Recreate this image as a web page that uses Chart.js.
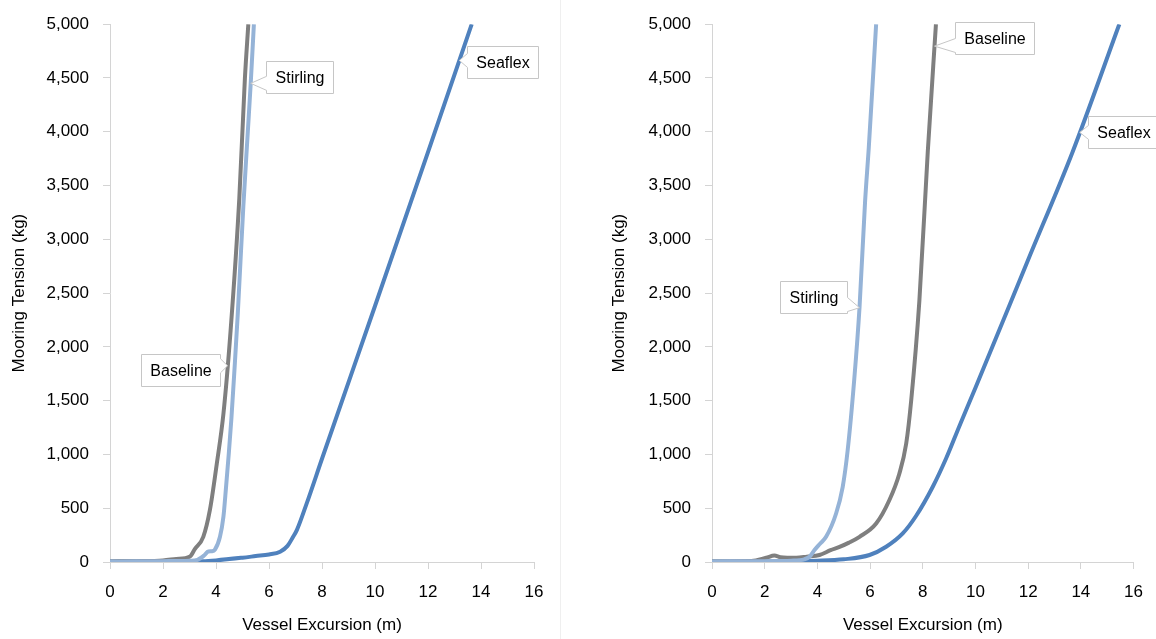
<!DOCTYPE html>
<html>
<head>
<meta charset="utf-8">
<script src="https://cdn.jsdelivr.net/npm/chart.js@4.4.0/dist/chart.umd.min.js"></script>
<style>
  html, body { margin: 0; padding: 0; background: #fff; }
  #wrap { position: relative; width: 1156px; height: 639px; overflow: hidden; }
  #leftBox { position: absolute; left: 0; top: 0; width: 560px; height: 639px; }
  #rightBox { position: absolute; left: 600px; top: 0; width: 556px; height: 639px; }
  #divider { position: absolute; left: 560px; top: 0; width: 1px; height: 639px; background: #efefef; }
</style>
</head>
<body>
<div id="wrap">
  <div id="leftBox"><canvas id="leftChart" width="560" height="639"></canvas></div>
  <div id="divider"></div>
  <div id="rightBox"><canvas id="rightChart" width="556" height="639"></canvas></div>
</div>
<script>
// data - left panel
const leftStirlingX = [0, 1, 2, 3, 3.3, 3.55, 3.71, 3.85, 3.96, 4.15, 4.28, 4.38, 4.48, 4.58, 4.7, 4.82, 5.03, 5.2, 5.31, 5.43];
const leftStirlingY = [5, 6, 8, 12, 20, 60, 98, 100, 115, 234, 420, 700, 1000, 1330, 1800, 2300, 3300, 4000, 4450, 5000];
const leftBaselineX = [0, 1, 2, 2.5, 3.02, 3.2, 3.52, 3.77, 4.03, 4.28, 4.55, 4.88, 5.09, 5.22];
const leftBaselineY = [5, 8, 15, 28, 52, 120, 234, 484, 914, 1377, 2148, 3382, 4494, 5000];
const leftSeaflexX = [0, 2, 3.5, 4, 5, 5.5, 6, 6.42, 6.7, 6.9, 7.05, 7.42, 8, 10, 12, 13.65];
const leftSeaflexY = [5, 6, 8, 15, 40, 55, 70, 96, 150, 230, 296, 543, 960, 2380, 3810, 5000];

// data - right panel
const rightStirlingX = [0, 2, 3, 3.5, 3.7, 3.89, 4.1, 4.33, 4.71, 4.96, 5.15, 5.4, 5.6, 5.81, 5.95, 6.23];
const rightStirlingY = [5, 8, 12, 25, 49, 111, 170, 234, 451, 697, 1040, 1700, 2370, 3350, 3850, 5000];
const rightBaselineX = [0, 1.5, 2.06, 2.37, 2.6, 3.2, 3.6, 4.08, 4.5, 4.84, 5.2, 5.6, 6.23, 6.73, 7.11, 7.37, 7.56, 7.87, 8.19, 8.5];
const rightBaselineY = [5, 10, 40, 60, 45, 40, 50, 65, 110, 140, 180, 234, 358, 574, 821, 1099, 1500, 2426, 3815, 5000];
const rightSeaflexX = [0, 3, 4, 5, 5.98, 6.61, 7.24, 7.75, 8.38, 8.88, 9.4, 10, 12, 13.69, 15.46];
const rightSeaflexY = [5, 8, 12, 25, 65, 142, 266, 430, 700, 960, 1270, 1620, 2810, 3815, 5000];

const seriesNames = ["Stirling", "Baseline", "Seaflex"];
const xTicks = [0, 2, 4, 6, 8, 10, 12, 14, 16];
const yTicks = [0, 500, 1000, 1500, 2000, 2500, 3000, 3500, 4000, 4500, 5000];

const seriesColors = ["#95b3d7", "#7f7f7f", "#4f81bd"];

Chart.defaults.font.family = '"Liberation Sans", Arial, Helvetica, sans-serif';
Chart.defaults.color = "#000";

const toPoints = (xs, ys) => xs.map((x, i) => ({ x: x, y: ys[i] }));

// callout boxes (Excel style data labels)
const calloutPlugin = {
  id: "callouts",
  afterDatasetsDraw(chart, args, opts) {
    const ctx = chart.ctx;
    const sx = chart.scales.x, sy = chart.scales.y;
    (opts.items || []).forEach((item) => {
      const pts = chart.data.datasets[item.dataset].data;
      let xv = null;
      for (let i = 1; i < pts.length; i++) {
        if (pts[i - 1].y <= item.atY && pts[i].y >= item.atY) {
          const t = (item.atY - pts[i - 1].y) / (pts[i].y - pts[i - 1].y);
          xv = pts[i - 1].x + t * (pts[i].x - pts[i - 1].x);
          break;
        }
      }
      if (xv === null) return;
      const tipX = sx.getPixelForValue(xv);
      const tipY = sy.getPixelForValue(item.atY);
      ctx.save();
      ctx.font = '16px "Liberation Sans", Arial, sans-serif';
      const w = Math.round(ctx.measureText(item.text).width + 18);
      const h = 32;
      const left = Math.round(item.side === "right" ? tipX + item.gap : tipX - item.gap - w) + 0.5;
      const top = Math.round(tipY + item.dy - h / 2) + 0.5;
      const wb = Math.min(Math.max(tipY, top + 9), top + h - 9);
      ctx.beginPath();
      if (item.side === "right") {
        ctx.moveTo(left, top);
        ctx.lineTo(left + w, top);
        ctx.lineTo(left + w, top + h);
        ctx.lineTo(left, top + h);
        ctx.lineTo(left, wb + 7);
        ctx.lineTo(tipX, tipY);
        ctx.lineTo(left, wb - 7);
      } else {
        ctx.moveTo(left, top);
        ctx.lineTo(left + w, top);
        ctx.lineTo(left + w, wb - 7);
        ctx.lineTo(tipX, tipY);
        ctx.lineTo(left + w, wb + 7);
        ctx.lineTo(left + w, top + h);
        ctx.lineTo(left, top + h);
      }
      ctx.closePath();
      ctx.fillStyle = "#fff";
      ctx.fill();
      ctx.strokeStyle = "#c6c6c6";
      ctx.lineWidth = 1;
      ctx.stroke();
      ctx.fillStyle = "#000";
      ctx.textAlign = "center";
      ctx.textBaseline = "middle";
      ctx.fillText(item.text, left + w / 2, top + h / 2 + 1);
      ctx.restore();
    });
  },
};

function makeChart(canvasId, series, yWidth, padRight, callouts) {
  return new Chart(document.getElementById(canvasId), {
    type: "scatter",
    data: {
      datasets: series.map((pts, i) => ({
        label: seriesNames[i],
        data: pts,
        showLine: true,
        borderColor: seriesColors[i],
        backgroundColor: seriesColors[i],
        borderWidth: 4,
        pointRadius: 0,
        pointHoverRadius: 0,
        cubicInterpolationMode: "monotone",
      })),
    },
    plugins: [calloutPlugin],
    options: {
      responsive: false,
      animation: false,
      layout: { padding: { top: 22, right: padRight, bottom: 0, left: 0 } },
      plugins: {
        legend: { display: false },
        tooltip: { enabled: false },
        callouts: { items: callouts },
      },
      scales: {
        x: {
          type: "linear",
          min: 0,
          max: 16,
          afterBuildTicks: (s) => { s.ticks = xTicks.map((v) => ({ value: v })); },
          ticks: { font: { size: 17 }, padding: 13, maxRotation: 0, autoSkip: false },
          grid: { drawOnChartArea: false, tickLength: 7, color: "#d4d4d4" },
          border: { color: "#d4d4d4" },
          title: {
            display: true,
            text: "Vessel Excursion (m)",
            font: { size: 17 },
            padding: { top: 0, bottom: 3 },
          },
          afterFit: (s) => { s.height = 77; },
        },
        y: {
          type: "linear",
          min: 0,
          max: 5000,
          afterBuildTicks: (s) => { s.ticks = yTicks.map((v) => ({ value: v })); },
          ticks: {
            font: { size: 17 },
            padding: 14,
            callback: (v) => v.toLocaleString("en-US"),
          },
          grid: { drawOnChartArea: false, tickLength: 7, color: "#d4d4d4" },
          border: { color: "#d4d4d4" },
          title: {
            display: true,
            text: "Mooring Tension (kg)",
            font: { size: 17 },
            padding: { top: 9, bottom: 0 },
          },
          afterFit: (s) => { s.width = yWidth; },
        },
      },
    },
  });
}

makeChart(
  "leftChart",
  [toPoints(leftStirlingX, leftStirlingY), toPoints(leftBaselineX, leftBaselineY), toPoints(leftSeaflexX, leftSeaflexY)],
  110,
  26,
  [
    { text: "Stirling", dataset: 0, atY: 4450, side: "right", gap: 15, dy: -6 },
    { text: "Baseline", dataset: 1, atY: 1824, side: "left", gap: 8, dy: 4 },
    { text: "Seaflex", dataset: 2, atY: 4663, side: "right", gap: 8, dy: 2 },
  ]
);

makeChart(
  "rightChart",
  [toPoints(rightStirlingX, rightStirlingY), toPoints(rightBaselineX, rightBaselineY), toPoints(rightSeaflexX, rightSeaflexY)],
  112,
  22,
  [
    { text: "Stirling", dataset: 0, atY: 2364, side: "left", gap: 12, dy: -11 },
    { text: "Baseline", dataset: 1, atY: 4796, side: "right", gap: 20, dy: -8 },
    { text: "Seaflex", dataset: 2, atY: 3994, side: "right", gap: 8, dy: 0 },
  ]
);
</script>
</body>
</html>
